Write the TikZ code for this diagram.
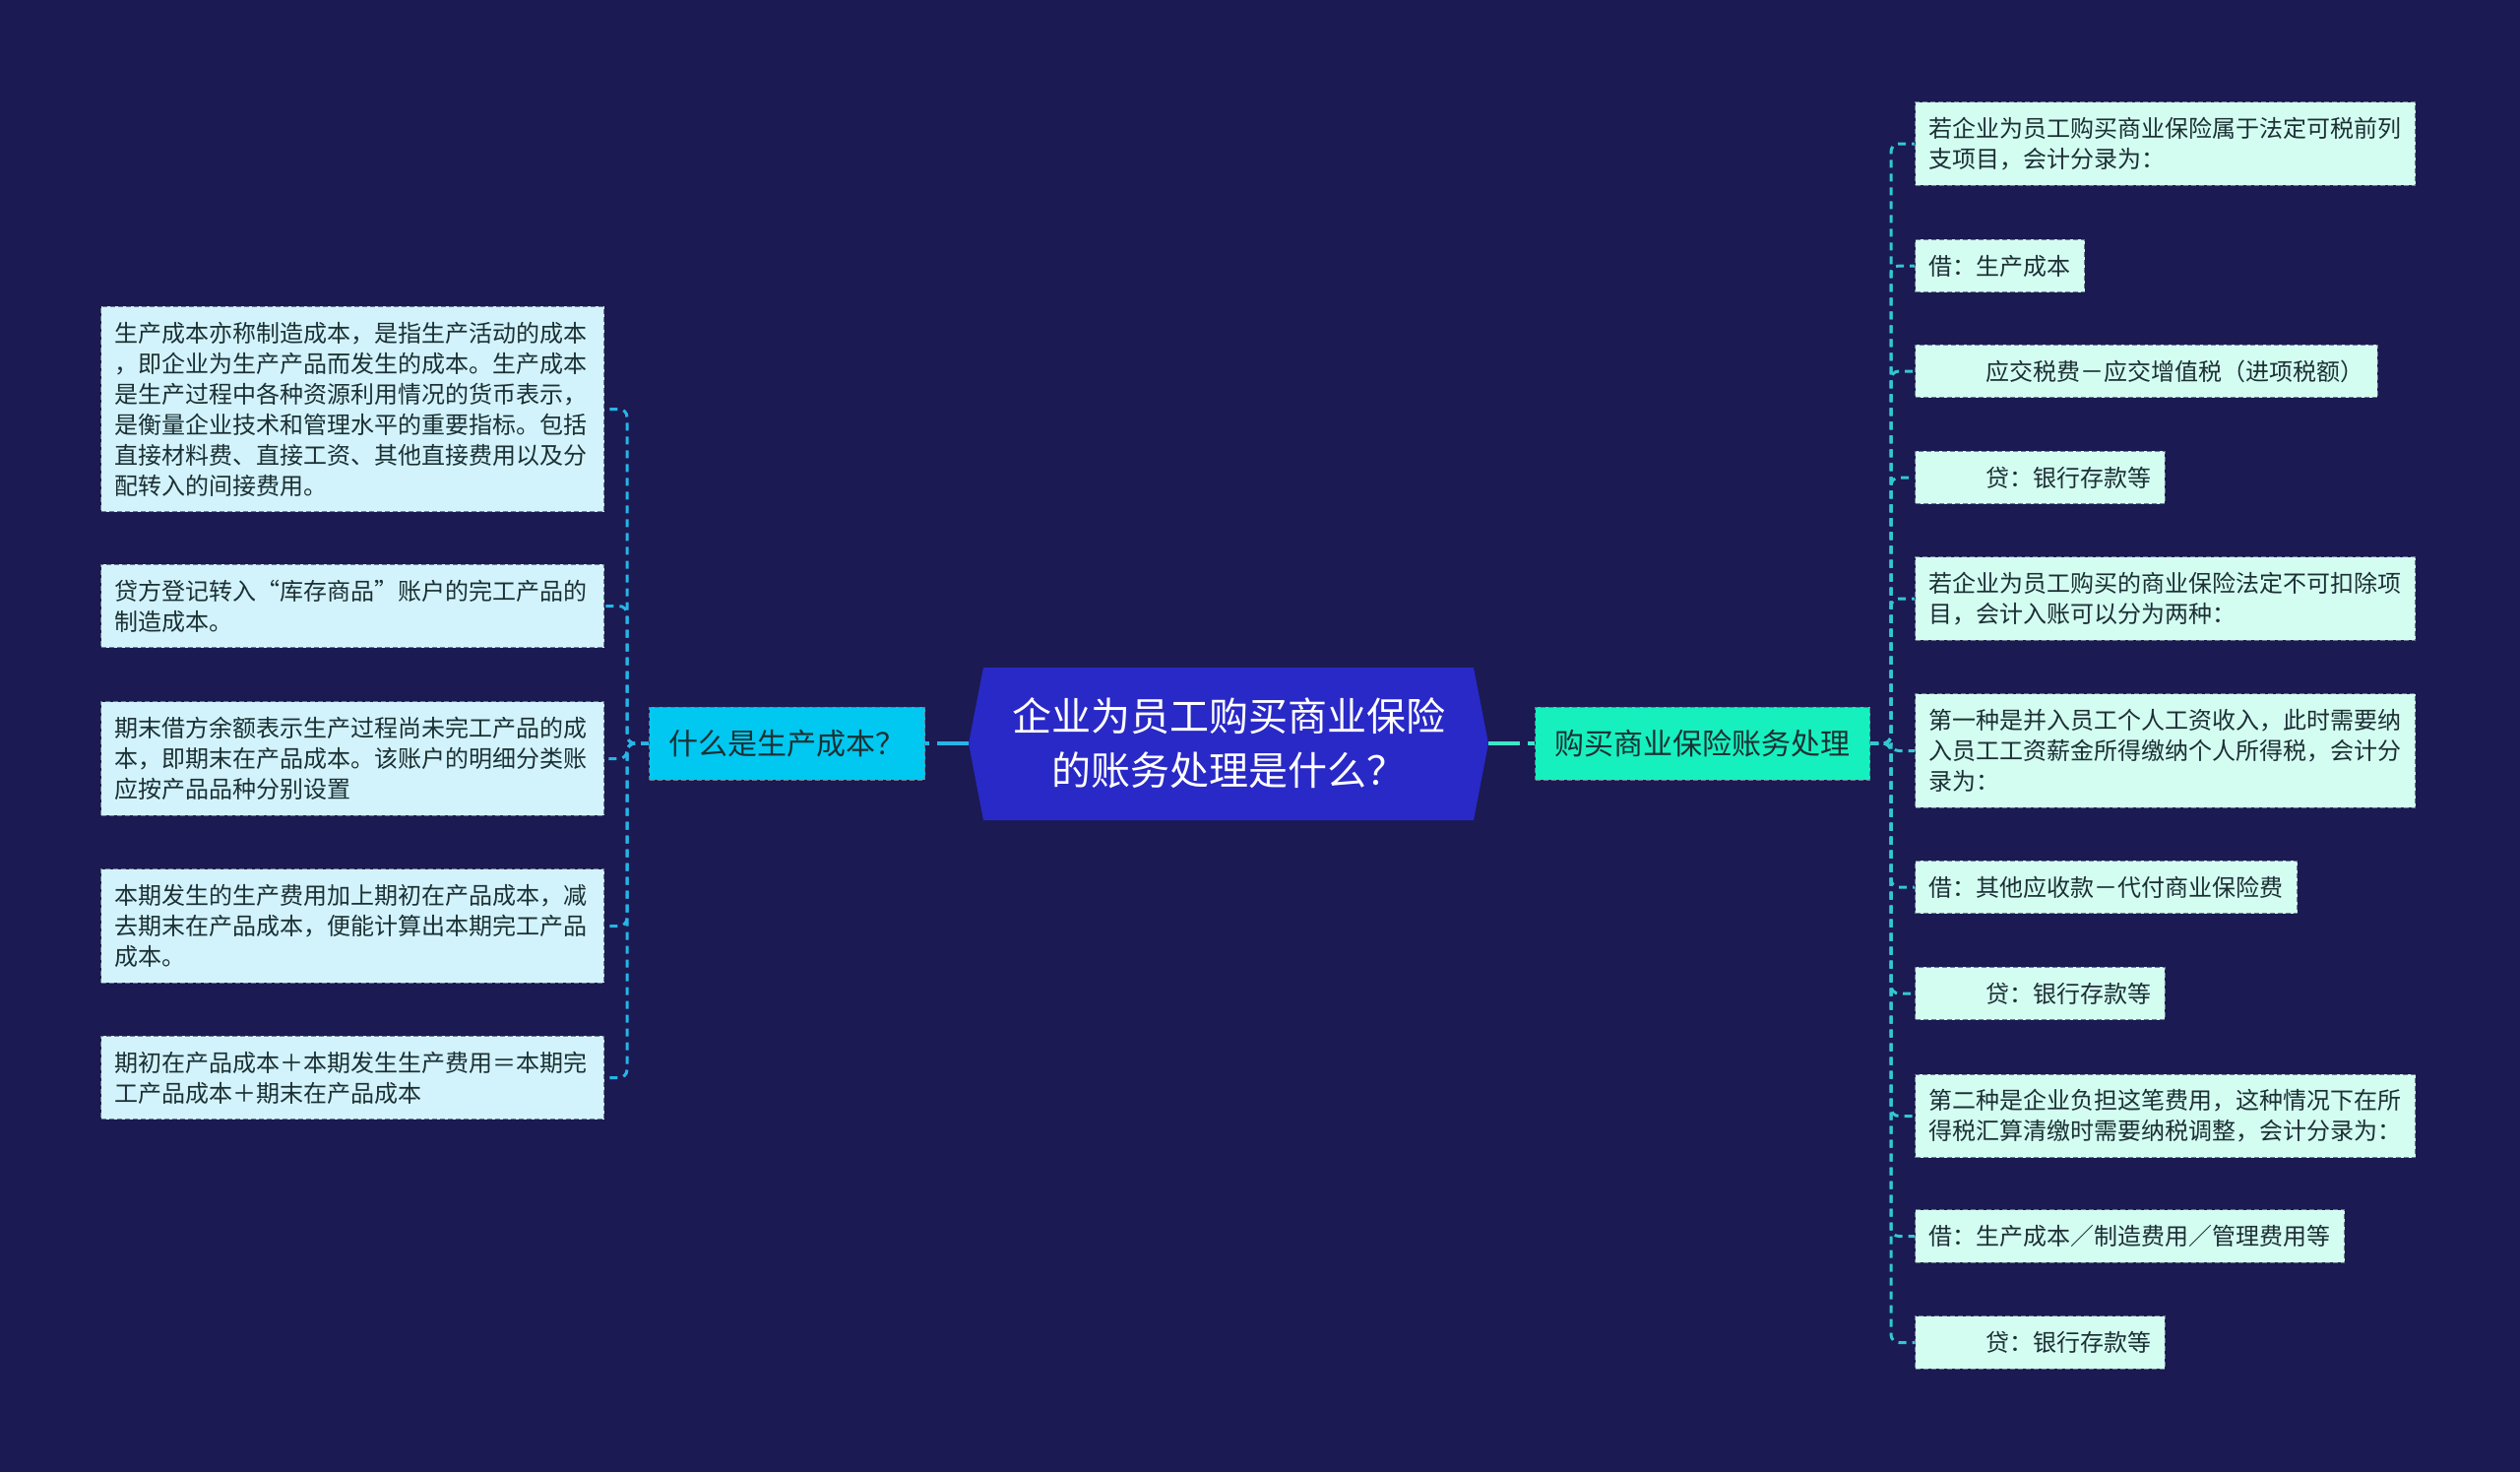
\documentclass[tikz,border=0pt]{standalone}
\usepackage{fontspec}
\newfontfamily\cjk{Noto Sans CJK SC}

\definecolor{bgcol}{RGB}{27,26,82}
\definecolor{rootfill}{RGB}{41,41,199}
\definecolor{lbfill}{RGB}{0,200,240}
\definecolor{rbfill}{RGB}{22,240,190}
\definecolor{lleaffill}{RGB}{210,243,252}
\definecolor{rleaffill}{RGB}{212,253,242}
\definecolor{darktext}{RGB}{28,48,52}
\definecolor{edgegray}{RGB}{110,120,140}
\definecolor{lconncol}{RGB}{40,180,230}
\definecolor{rconncol}{RGB}{50,200,210}
\definecolor{rootconn}{RGB}{60,230,200}

\tikzset{
  leaf/.style={draw=edgegray, dash pattern=on 2.5pt off 1.5pt, line width=0.5pt,
    text=darktext, font=\cjk\fontsize{12}{15.5}\selectfont,
    inner xsep=7pt, inner ysep=7.75pt, align=left},
  lleaf/.style={leaf, fill=lleaffill, text width=241.5pt, anchor=east},
  rleaf/.style={leaf, fill=rleaffill, anchor=west},
  branch/.style={draw=edgegray, dash pattern=on 2.5pt off 1.5pt, line width=0.5pt,
    text=darktext, font=\cjk\fontsize{15}{18}\selectfont,
    inner xsep=10pt, minimum height=37pt},
  lconn/.style={draw=lconncol, line width=1.5pt, dash pattern=on 4pt off 3pt,
    rounded corners=4pt},
  rconn/.style={lconn, draw=rconncol},
  mainconn/.style={line width=2pt, dash pattern=on 16pt off 4pt}
}

\begin{document}
\begin{tikzpicture}[x=0.5pt,y=-0.5pt]

  \fill[bgcol] (0,0) rectangle (2560,1495);

  % centre
  \fill[rootfill] (984,755) -- (999,678) -- (1497,678) -- (1512,755)
    -- (1497,833) -- (999,833) -- cycle;
  \node[minimum width=264pt, minimum height=77.5pt, align=center, text=white,
    font=\cjk\fontsize{20}{27.5}\selectfont] (root) at (1248,755)
    {企业为员工购买商业保险\\的账务处理是什么？};

  \node[branch, fill=lbfill] (lb) at (799.5,755) {什么是生产成本？};
  \node[branch, fill=rbfill] (rb) at (1729.5,755) {购买商业保险账务处理};

  % left side
  \node[lleaf] (l1) at (614,415.5) {生产成本亦称制造成本，是指生产活动的成本\\，即企业为生产产品而发生的成本。生产成本\\是生产过程中各种资源利用情况的货币表示，\\是衡量企业技术和管理水平的重要指标。包括\\直接材料费、直接工资、其他直接费用以及分\\配转入的间接费用。};
  \node[lleaf] (l2) at (614,615.5) {贷方登记转入“库存商品”账户的完工产品的\\制造成本。};
  \node[lleaf] (l3) at (614,770.5) {期末借方余额表示生产过程尚未完工产品的成\\本，即期末在产品成本。该账户的明细分类账\\应按产品品种分别设置};
  \node[lleaf] (l4) at (614,940.5) {本期发生的生产费用加上期初在产品成本，减\\去期末在产品成本，便能计算出本期完工产品\\成本。};
  \node[lleaf] (l5) at (614,1094.5) {期初在产品成本＋本期发生生产费用＝本期完\\工产品成本＋期末在产品成本};

  % right side
  \node[rleaf] (r1) at (1945,146) {若企业为员工购买商业保险属于法定可税前列\\支项目，会计分录为：};
  \node[rleaf] (r2) at (1945,270) {借：生产成本};
  \node[rleaf] (r3) at (1945,377) {\hspace*{2.4em}应交税费－应交增值税（进项税额）};
  \node[rleaf] (r4) at (1945,485) {\hspace*{2.4em}贷：银行存款等};
  \node[rleaf] (r5) at (1945,608) {若企业为员工购买的商业保险法定不可扣除项\\目，会计入账可以分为两种：};
  \node[rleaf] (r6) at (1945,762.5) {第一种是并入员工个人工资收入，此时需要纳\\入员工工资薪金所得缴纳个人所得税，会计分\\录为：};
  \node[rleaf] (r7) at (1945,901) {借：其他应收款－代付商业保险费};
  \node[rleaf] (r8) at (1945,1009) {\hspace*{2.4em}贷：银行存款等};
  \node[rleaf] (r9) at (1945,1133.5) {第二种是企业负担这笔费用，这种情况下在所\\得税汇算清缴时需要纳税调整，会计分录为：};
  \node[rleaf] (r10) at (1945,1255.5) {借：生产成本／制造费用／管理费用等};
  \node[rleaf] (r11) at (1945,1363.5) {\hspace*{2.4em}贷：银行存款等};

  \draw[lconn, mainconn] (root.west) -- (lb.east);
  \draw[rconn, mainconn, draw=rootconn] (root.east) -- (rb.west);

  \foreach \n in {l1,l2,l3,l4,l5}
    \draw[lconn] (lb.west) -- ++(-22,0) |- (\n.east);

  \foreach \n in {r1,r2,r3,r4,r5,r6,r7,r8,r9,r10,r11}
    \draw[rconn] (rb.east) -- ++(21,0) |- (\n.west);

\end{tikzpicture}
\end{document}
